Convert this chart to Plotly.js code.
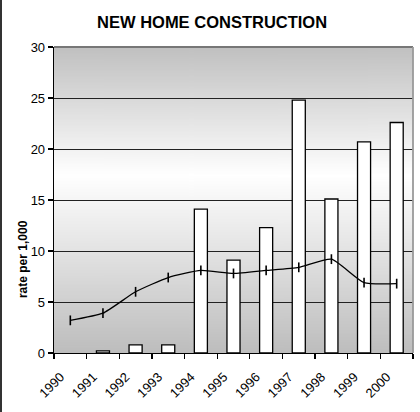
<!DOCTYPE html>
<html>
<head>
<meta charset="utf-8">
<script src="https://cdn.plot.ly/plotly-3.0.1.min.js"></script>
<style>
  html, body { margin: 0; padding: 0; background: #fff; }
  #chart { width: 420px; height: 412px; position: absolute; left: 0; top: 0; }
  #edge { position: absolute; left: 0; top: 0; width: 2px; height: 412px; background: #333; }
</style>
</head>
<body>
<div id="chart"></div>
<div id="edge"></div>
<script>
// ---- data ----
const years = [1990, 1991, 1992, 1993, 1994, 1995, 1996, 1997, 1998, 1999, 2000];
const yearLabels = ['1990', '1991', '1992', '1993', '1994', '1995', '1996', '1997', '1998', '1999', '2000'];
const newHomes = [null, 0.2, 0.8, 0.8, 14.1, 9.1, 12.3, 24.8, 15.1, 20.7, 22.6];
const rateLine = [3.2, 3.9, 6.0, 7.4, 8.1, 7.8, 8.1, 8.4, 9.2, 6.9, 6.8];
const yTicks = [0, 5, 10, 15, 20, 25, 30];

// ---- background gradient (gray -> white -> gray) ----
const cv = document.createElement('canvas');
cv.width = 4; cv.height = 400;
const ctx = cv.getContext('2d');
const g = ctx.createLinearGradient(0, 0, 0, 400);
g.addColorStop(0, '#c0c0c0');
g.addColorStop(0.42, '#ffffff');
g.addColorStop(1, '#bdbdbd');
ctx.fillStyle = g;
ctx.fillRect(0, 0, 4, 400);
const bgURL = cv.toDataURL('image/png');

const font = 'Liberation Sans, Arial, sans-serif';

const traces = [
  {
    type: 'bar',
    x: years,
    y: newHomes,
    width: 0.4,
    marker: { color: '#ffffff', line: { color: '#000000', width: 1.3 } },
    hoverinfo: 'skip'
  },
  {
    type: 'scatter',
    mode: 'lines+markers',
    x: years,
    y: rateLine,
    line: { color: '#000000', width: 1.3, shape: 'spline', smoothing: 0.5 },
    marker: { symbol: 'line-ns', size: 7, color: '#000', line: { color: '#000000', width: 1.6 } },
    hoverinfo: 'skip'
  }
];

const layout = {
  width: 420,
  height: 412,
  margin: { l: 54, r: 7, t: 47, b: 59 },
  paper_bgcolor: '#ffffff',
  plot_bgcolor: 'rgba(0,0,0,0)',
  showlegend: false,
  font: { family: font, color: '#000', size: 13 },
  title: {
    text: '<b>NEW HOME CONSTRUCTION</b>',
    font: { family: font, size: 16.5, color: '#000' },
    x: 0.505, xanchor: 'center',
    y: 0.947, yanchor: 'middle'
  },
  xaxis: {
    range: [years[0] - 0.5, years[years.length - 1] + 0.5],
    tickmode: 'array',
    tickvals: years.map(v => v - 0.3),
    ticktext: yearLabels,
    tickangle: -45,
    ticks: '',
    ticklabelstandoff: 10,
    tickfont: { family: font, size: 13, color: '#000' },
    showgrid: false,
    zeroline: false,
    showline: true,
    linecolor: '#000',
    linewidth: 1.3,
    minor: {
      tickmode: 'array',
      tickvals: years.map(v => v - 0.5).concat([years[years.length - 1] + 0.5]),
      ticks: 'outside',
      ticklen: 5,
      tickwidth: 1.2,
      tickcolor: '#000',
      showgrid: false
    },
    fixedrange: true
  },
  yaxis: {
    range: [0, 30],
    tickmode: 'array',
    tickvals: yTicks,
    ticktext: yTicks.map(String),
    ticks: 'outside',
    ticklen: 5,
    tickwidth: 1.2,
    tickcolor: '#000',
    tickfont: { family: font, size: 13, color: '#000' },
    showgrid: true,
    gridcolor: '#222',
    gridwidth: 1,
    zeroline: false,
    showline: true,
    linecolor: '#000',
    linewidth: 1.3,
    fixedrange: true
  },
  images: [{
    source: bgURL,
    xref: 'paper', yref: 'paper',
    x: 0, y: 1, sizex: 1, sizey: 1,
    xanchor: 'left', yanchor: 'top',
    sizing: 'stretch',
    layer: 'below'
  }],
  shapes: [
    { type: 'line', xref: 'paper', yref: 'paper', x0: 0, x1: 1, y0: 1, y1: 1,
      line: { color: '#777', width: 1.8 } },
    { type: 'line', xref: 'paper', yref: 'paper', x0: 1, x1: 1, y0: 0, y1: 1,
      line: { color: '#999', width: 1.8 } }
  ],
  annotations: [{
    text: '<b>rate per 1,000</b>',
    textangle: -90,
    xref: 'paper', yref: 'paper',
    x: 0, y: 0.307,
    xanchor: 'center', yanchor: 'middle',
    xshift: -31,
    showarrow: false,
    font: { family: font, size: 12, color: '#000' }
  }]
};

Plotly.newPlot('chart', traces, layout, { displayModeBar: false, staticPlot: true });
</script>
</body>
</html>
